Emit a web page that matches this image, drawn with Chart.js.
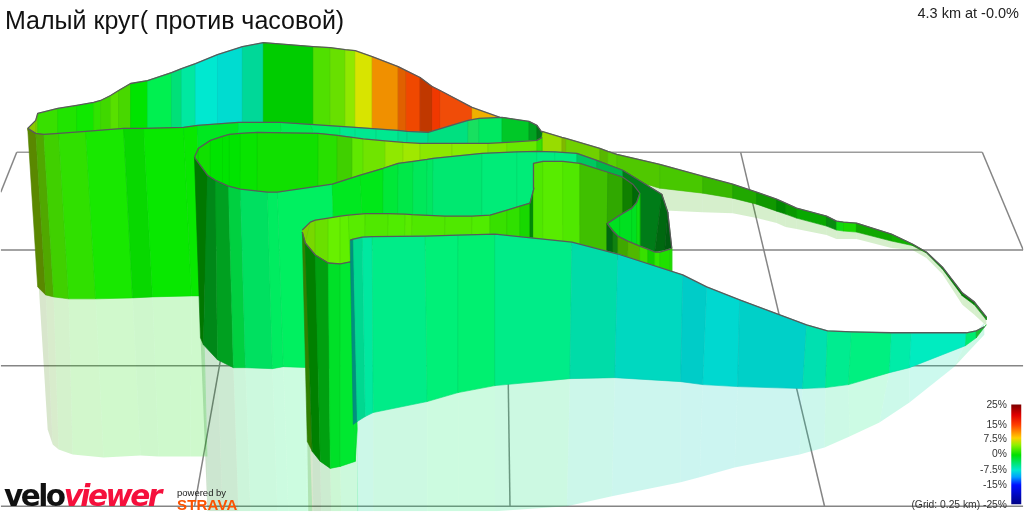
<!DOCTYPE html>
<html><head><meta charset="utf-8">
<style>
html,body{margin:0;padding:0;background:#fff;overflow:hidden}
#wrap{position:relative;width:1024px;height:512px}
canvas{position:absolute;left:0;top:0}
.t{position:absolute;white-space:nowrap;font-family:"Liberation Sans",Arial,sans-serif;color:#222;line-height:1}
.tick{font-size:10.3px;right:17px;color:#333}
</style>
<script src="https://cdn.jsdelivr.net/npm/chart.js@4"></script>
</head><body><div id="wrap">
<canvas id="c" width="1024" height="512"></canvas>
<div class="t" style="left:5px;top:8px;font-size:25px;color:#111">Малый круг( против часовой)</div>
<div class="t" style="right:5px;top:6px;font-size:14.5px;color:#222">4.3 km at -0.0%</div>
<div class="t tick" style="top:400px">25%</div>
<div class="t tick" style="top:420px">15%</div>
<div class="t tick" style="top:434px">7.5%</div>
<div class="t tick" style="top:449px">0%</div>
<div class="t tick" style="top:465px">-7.5%</div>
<div class="t tick" style="top:480px">-15%</div>
<div class="t tick" style="top:500px">(Grid: 0.25 km) -25%</div>
<div class="t" style="left:4px;top:482px;font-family:'DejaVu Sans';font-weight:bold;font-size:29.5px;letter-spacing:-2.5px;color:#111">velo<span style="color:#f5103c;font-style:italic">viewer</span></div>
<div class="t" style="left:177px;top:488px;font-size:9.5px;color:#222">powered by</div>
<div class="t" style="left:177px;top:497px;font-size:15px;font-weight:bold;letter-spacing:.2px;color:#fc5200">STRAVA</div>
</div>
<script>
const gridLines=[[16,152,983,152],[0,250,1024,250],[0,366,1024,366],[0,507,1024,507],[16,152,0,192],[983,152,1024,250],[257,152,194,507],[505,152,510,507],[741,152,825,507]];
const humpTopX=[27,35,37,57,76,93,100,110,118,130,147,171,181,195,217,242,263,313,330,345,355,372,398,406,420,432,440,472,500,530,542];
const humpTopY=[128,120,113,108,105,102,100,95,90,83,80,72,68,63,54,46,42,46,47,49,50,56,66,70,77,86,90,107,117,122,132];
const humpBotY=[130,135,138,138,138,138,135,135,135,135,135,135,135,135,130,130,130,130,130,135,135,135,140,140,140,140,135,125,125,130,135];
const humpColors=["#8ac800","#70d000","#38e000","#20e400","#10e800","#30e400","#40d800","#58e000","#48d800","#00e400","#00f050","#00e078","#00e8a0","#00e8d0","#00dcd0","#00d898","#00cc00","#50e000","#68e000","#90e800","#d8e400","#f09000","#e06000","#f04800","#c03800","#f03800","#f04c08","#f0b000","#00c828","#00c828"];
const tailTopX=[542,562,566,600,608,617,660,703,733,757,777,786,797,827,837,844,857,892,913,927,943,963,975,987];
const tailTopY=[131,137,138,148,151,154,164,176,184,192,199,203,208,216,221,222,223,234,244,252,267,293,302,317];
const tailBotY=[152,158,160,170,173,176,188,193,198,204,211,214,218,226,230,231,232,241,245.5,253,269,296,305,320];
const tailColors=["#98dc00","#80b800","#70d000","#58b800","#58d000","#50c800","#48c800","#38b800","#20a800","#109800","#008800","#089800","#08a800","#088c10","#10d810","#18d800","#10a800","#10b000","#109000","#008000","#008000","#008000","#109010"];
const outerTopX=[27,35,43,58,85,123,143,183,197,238,280,310,340,355,376,398,407,428,468,479,502,529,537,542];
const outerTopY=[128,133,134,133,131,128,128,127,125,122,122,124,126,127,128.5,130,131,132,120,118,117,121,125,132];
const outerBotX=[37,45,53,68,95,132,152,191,200,240,285,330,340,355,376,398,407,428,468,479,502,529,537,541];
const outerBotY=[287,295,297,299,299,298,297,296,296,170,170,170,170,170,170,170,170,170,170,170,170,170,170,145];
const outerColors=["#5a8800","#50a800","#40d000","#30e000","#18e800","#08d800","#08e800","#08e800","#00e820","#00ee40","#00ee50","#00f060","#00e890","#00e890","#00e890","#00e090","#00e090","#00e080","#18e060","#00e860","#00c828","#00a020","#007818"];
const innerTopX=[194,198,210,222,229,240,257,318,337,352,363,385,403,420,452,488,507,537,542];
const innerTopY=[157,148,140,136,134,133,132,133,135,137,138.5,140.5,142,143,143,143,142,140,137];
const innerBotY=[157,165,185,195,195,200,200,195,195,185,185,180,172,170,165,165,160,160,152];
const innerColors=["#10e000","#10e000","#00e400","#00e400","#00e400","#08e400","#10e000","#28e000","#40d000","#60e800","#70e400","#90e800","#a0e800","#8ce800","#88ec00","#78e800","#68e800","#38e000"];
const midTopX=[194,207,215,228,240,267,277,332,360,383,398,413,427,433,482,517,537,555,577,597,623,662,668,672];
const midTopY=[157,175,180,186,189,192,192,184,175,168,163,161,159,158,153,151.5,151,151.5,153,160,170,194,212,248];
const midBotX=[200,203,217,233,245,272,283,337,362,383,398,413,427,433,482,517,537,555,577,597,625,655,665,672];
const midBotY=[338,345,360,368,368,369,367,369,225,225,225,225,225,225,225,225,225,225,225,225,240,252,250,248];
const midColors=["#007800","#008818","#00a020","#00d040","#00e060","#00ec60","#00f060","#00e820","#00e818","#00e838","#00e848","#00e85a","#00e860","#00e870","#00ec78","#00ec78","#00ec80","#00ec80","#00c860","#00b848","#007c18","#006810","#005c10"];
const lowTopX=[302,310,315,328,340,348,365,388,405,412,445,472,490,507,520,530,534,533.5,543,563,580,608,623,633,640];
const lowTopY=[230,222,220,218,216,215,213.5,213.5,214,214.5,216,216,215,210,206,203,188,163,161,161,163,172,177,184,193];
const lowBotX=[302,305,315,328,340,350,365,388,405,412,445,472,490,507,520,530,534,534,543,563,580,607,623,633,640];
const lowBotY=[232,243,255,263,264,262,245,245,245,245,245,245,245,245,245,245,245,245,245,245,246,253,250,250,250];
const lowColors=["#80d000","#78d800","#6ae000","#68f000","#60f000","#58ec00","#50e800","#50ec00","#58ec00","#50e800","#50e800","#50ec00","#38e000","#30e000","#18d800","#008808","#50e800","#50e800","#58ec00","#50e800","#40c000","#30a800","#108000","#006808"];
const turnTopX=[608,620,632,637,640];
const turnTopY=[223,215,208,202,193];
const turnBotX=[608,620,632,637,640];
const turnBotY=[223,238,243,246,247];
const turnColors=["#00e020","#00e020","#00e020","#10e010"];
const backTopX=[607,613,618,628,640,648,655,660,670,672];
const backTopY=[223,231,236,241,246,249,252,252,249,248];
const backBotY=[256,258,260,264,268,270,272,274,276,274];
const backColors=["#006810","#108010","#40a800","#50b800","#38e000","#10d000","#30e800","#20e000","#20e000"];
const frontTopX=[302,305,315,328,340,350,353];
const frontTopY=[232,243,255,263,264,262,262];
const frontBotX=[307,312,320,330,340,355,357];
const frontBotY=[442,452,462,469,467,462,430];
const frontColors=["#308000","#008000","#00a010","#00e028","#00e830","#00e830"];
const nearTopX=[350,353,362,372,425,458,495,572,618,683,707,740,807,828,852,892,912,967,977,985];
const nearTopY=[240,239,237,236.5,236,235,234,242,254,275,287,300,325,331,332,333,333,333,331,327];
const nearBotX=[353,357,365,373,427,458,495,570,615,681,703,738,803,826,849,890,910,966,977,987];
const nearBotY=[425,422,417,413,402,393,386,379,378,382,385,387,389,388,385,373,368,346,338,325];
const nearColors=["#009080","#00d890","#00e8a0","#00ec88","#00f078","#00f070","#00ec88","#00dca8","#00d8c0","#00ccc8","#00d8d0","#00d0c8","#00e0b0","#00ec90","#00f080","#00eca8","#00ecc0","#00ec70","#18c030"];
const refLeftTopX=[38,45,53,68,95,132,152,191,203];
const refLeftTopY=[285,293,295,297,297,296,295,294,294];
const refLeftBotX=[47,52,58,72,103,140,158,190,207];
const refLeftBotY=[430,445,450,455,458,456,457,457,457];
const refLeftColors=["rgba(60,130,0,.2)","rgba(60,160,0,.2)","rgba(40,190,0,.2)","rgba(30,215,0,.2)","rgba(20,225,0,.2)","rgba(10,215,0,.2)","rgba(10,225,0,.2)","rgba(10,225,0,.2)"];
const refMidTopX=[200,203,217,233,245,272,283,303,307];
const refMidTopY=[336,343,358,366,366,367,365,360,360];
const refMidBotX=[207,208,222,238,250,277,288,307,312];
const refMidBotY=[512,512,512,512,512,512,512,512,512];
const refMidColors=["rgba(0,110,0,.2)","rgba(0,130,20,.2)","rgba(0,150,30,.2)","rgba(0,205,70,.2)","rgba(0,225,90,.2)","rgba(0,235,100,.2)","rgba(0,240,100,.2)","rgba(0,240,100,.2)"];
const refFrontTopX=[307,312,320,330,340,357];
const refFrontTopY=[440,450,460,467,465,420];
const refFrontBotX=[308,313,321,331,341,358];
const refFrontBotY=[512,512,512,512,512,512];
const refFrontColors=["rgba(60,130,0,.2)","rgba(0,120,0,.2)","rgba(0,160,20,.2)","rgba(0,215,40,.2)","rgba(0,225,80,.2)"];
const refNearTopX=[357,373,427,458,495,570,615,681,703,738,803,826,849,890,910,966,985];
const refNearTopY=[420,411,400,391,384,377,376,380,383,385,387,386,383,371,366,344,323];
const refNearBotX=[357,373,427,458,495,567,612,681,700,735,800,825,850,880,910,955,985];
const refNearBotY=[512,512,512,512,512,507,497,483,478,468,455,448,437,423,403,367,335];
const refNearColors=["rgba(0,220,140,.2)","rgba(0,225,110,.2)","rgba(0,235,100,.2)","rgba(0,235,100,.2)","rgba(0,225,110,.2)","rgba(0,215,150,.2)","rgba(0,210,170,.2)","rgba(0,205,180,.2)","rgba(0,205,185,.2)","rgba(0,205,180,.2)","rgba(0,215,160,.2)","rgba(0,225,130,.2)","rgba(0,235,120,.2)","rgba(0,225,150,.2)","rgba(0,225,170,.2)","rgba(0,220,130,.2)"];
const refTailTopX=[640,660,703,733,757,777,786,797,827,837,857,892,913,927,943,963,975,987];
const refTailTopY=[186,187,192,197,203,210,213,217,225,229,231,240,245,252,269,296,305,320];
const refTailBotY=[210,210,212,213,218,223,227,229,235,239,239,248,250,258,274,305,315,326];
const refTailColors=["rgba(50,175,0,.2)","rgba(50,175,0,.2)","rgba(50,175,0,.2)","rgba(50,175,0,.2)","rgba(50,175,0,.2)","rgba(50,175,0,.2)","rgba(50,175,0,.2)","rgba(50,175,0,.2)","rgba(50,175,0,.2)","rgba(50,175,0,.2)","rgba(50,175,0,.2)","rgba(50,175,0,.2)","rgba(50,175,0,.2)","rgba(50,175,0,.2)","rgba(50,175,0,.2)","rgba(50,175,0,.2)","rgba(50,175,0,.2)"];
const scaleBarX=[1012,1022,1022,1012];
const scaleBarY=[405,405,505,505];
const scaleStops=[[0,"#800000"],[.1,"#e00000"],[.2,"#ff4000"],[.33,"#ffd000"],[.4,"#90f000"],[.5,"#00e000"],[.65,"#00e8d0"],[.72,"#00a0ff"],[.8,"#0010ff"],[1,"#000080"]];

const datasets=[];
const base={showLine:true,pointRadius:0,pointHoverRadius:0,tension:0,spanGaps:true};
function darker(c){
  if(c[0]!=="#")return "rgba(0,0,0,0)";
  const n=parseInt(c.slice(1),16),f=.94;
  return `rgb(${(n>>16&255)*f|0},${(n>>8&255)*f|0},${(n&255)*f|0})`;
}
function strip(tx,ty,bx,by,colors){
  colors.forEach((col,i)=>{
    datasets.push({...base,fill:"shape",backgroundColor:col,borderColor:darker(col),borderWidth:col[0]==="#"?.6:0,
      data:[{x:tx[i],y:ty[i]},{x:tx[i+1],y:ty[i+1]},{x:bx[i+1],y:by[i+1]},{x:bx[i],y:by[i]},{x:tx[i],y:ty[i]}]});
  });
}
function edge(xs,ys){
  datasets.push({...base,fill:false,borderColor:"#5a5a5a",borderWidth:1.3,borderJoinStyle:"round",
    data:xs.map((x,i)=>({x,y:ys[i]}))});
}
gridLines.forEach((g,i)=>datasets.push({...base,fill:false,borderColor:i===0?"#9c9c9c":"#858585",borderWidth:1.5,
  data:[{x:g[0],y:g[1]},{x:g[2],y:g[3]}]}));
strip(refLeftTopX,refLeftTopY,refLeftBotX,refLeftBotY,refLeftColors);
strip(refMidTopX,refMidTopY,refMidBotX,refMidBotY,refMidColors);
strip(refFrontTopX,refFrontTopY,refFrontBotX,refFrontBotY,refFrontColors);
strip(refNearTopX,refNearTopY,refNearBotX,refNearBotY,refNearColors);
strip(refTailTopX,refTailTopY,refTailTopX,refTailBotY,refTailColors);
strip(humpTopX,humpTopY,humpTopX,humpBotY,humpColors);
edge(humpTopX,humpTopY);
strip(tailTopX,tailTopY,tailTopX,tailBotY,tailColors);
edge(tailTopX,tailTopY);
strip(outerTopX,outerTopY,outerBotX,outerBotY,outerColors);
edge(outerTopX,outerTopY);
strip(innerTopX,innerTopY,innerTopX,innerBotY,innerColors);
edge(innerTopX,innerTopY);
strip(midTopX,midTopY,midBotX,midBotY,midColors);
edge(midTopX,midTopY);
strip(lowTopX,lowTopY,lowBotX,lowBotY,lowColors);
edge(lowTopX,lowTopY);
strip(turnTopX,turnTopY,turnBotX,turnBotY,turnColors);
edge(turnTopX,turnTopY);
strip(backTopX,backTopY,backTopX,backBotY,backColors);
edge(backTopX,backTopY);
strip(frontTopX,frontTopY,frontBotX,frontBotY,frontColors);
edge(frontTopX,frontTopY);
strip(nearTopX,nearTopY,nearBotX,nearBotY,nearColors);
edge(nearTopX,nearTopY);
const scaleBar={...base,fill:"shape",borderWidth:0,backgroundColor:"#000",
  data:scaleBarX.map((x,i)=>({x,y:scaleBarY[i]}))};
datasets.push(scaleBar);

const chart=new Chart(document.getElementById("c"),{
  type:"scatter",
  data:{datasets:datasets.reverse()},
  options:{responsive:false,animation:false,devicePixelRatio:1,events:[],
    layout:{padding:0},
    plugins:{legend:{display:false},tooltip:{enabled:false},title:{display:false}},
    scales:{
      x:{type:"linear",min:0,max:1024,display:false},
      y:{type:"linear",min:0,max:512,reverse:true,display:false}
    }}
});
const ramp=chart.ctx.createLinearGradient(0,chart.scales.y.getPixelForValue(scaleBarY[0]),0,chart.scales.y.getPixelForValue(scaleBarY[2]));
scaleStops.forEach(p=>ramp.addColorStop(p[0],p[1]));
scaleBar.backgroundColor=ramp;
chart.update("none");
</script></body></html>
